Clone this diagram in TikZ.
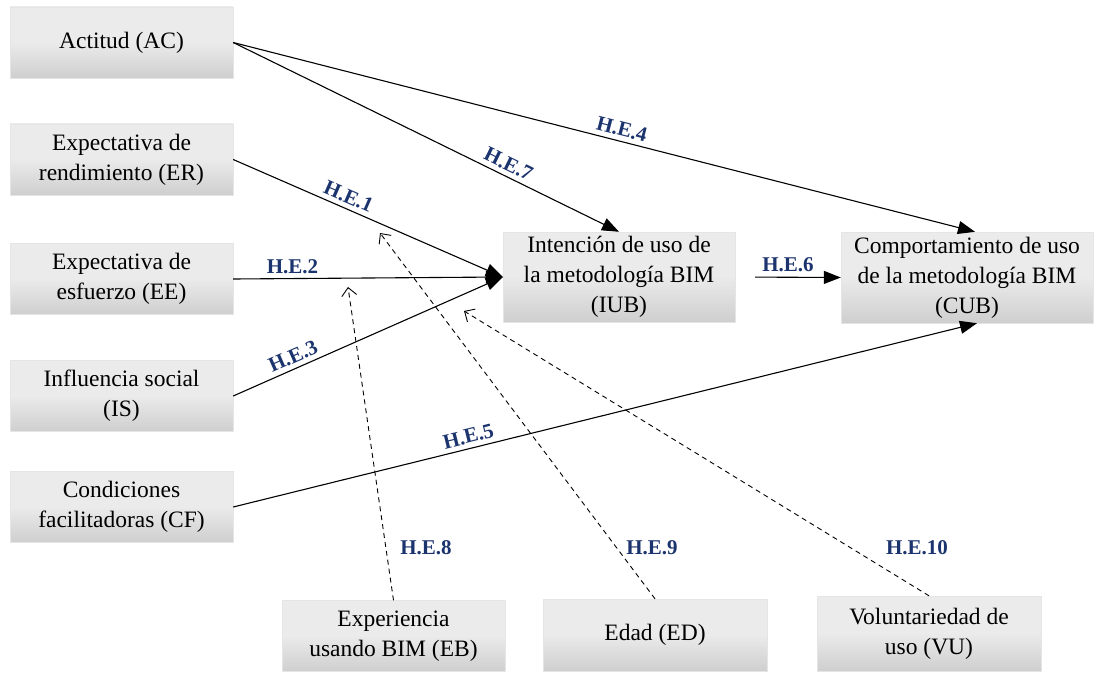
\documentclass[tikz,border=0pt]{standalone}
\usepackage{fontspec}
\setmainfont{Liberation Serif}
\usetikzlibrary{positioning,arrows.meta}
\definecolor{hypnavy}{RGB}{28,52,110}
\colorlet{boxtop}{black!8}
\colorlet{boxbottom}{black!19}
\colorlet{boxdraw}{black!10}

\tikzset{
  construct/.style={rectangle, inner sep=0pt, minimum width=223pt, minimum height=71pt,
    align=center, top color=boxtop, bottom color=boxbottom, middle color=boxtop,
    draw=boxdraw, font=\fontsize{23.5}{30}\selectfont},
  hyp/.style={-{Triangle[length=17pt,width=13pt]}, line width=1.1pt},
  moder/.style={-{Straight Barb[length=8pt,width=15pt]}, dash pattern=on 5pt off 4pt, line width=.9pt},
  hlabel/.style={text=hypnavy, font=\fontsize{21}{21}\selectfont\bfseries, inner sep=4.5pt},
}

\begin{document}
\begin{tikzpicture}[x=1pt,y=-1pt]
  \useasboundingbox (0,0) rectangle (1102,674);
  % constructos de la izquierda
  \node[construct] (ac) at (121.5,42.5) {Actitud (AC)};
  \node[construct] (er) at (121.5,159.5) {Expectativa de\\rendimiento (ER)};
  \node[construct] (ee) at (121.5,279) {Expectativa de\\esfuerzo (EE)};
  \node[construct] (is) at (121.5,396) {Influencia social\\(IS)};
  \node[construct] (cf) at (121.5,507) {Condiciones\\facilitadoras (CF)};
  % intencion y comportamiento
  \node[construct, minimum width=232pt, minimum height=90pt] (iub) at (619,277)
    {Intención de uso de\\la metodología BIM\\(IUB)};
  \node[construct, minimum width=252pt, minimum height=91pt] (cub) at (967,277.5)
    {Comportamiento de uso\\de la metodología BIM\\(CUB)};
  % moderadores
  \node[construct] (eb) at (393.5,636) {Experiencia\\usando BIM (EB)};
  \node[construct, minimum width=224pt, minimum height=72pt] (ed) at (655,635) {Edad (ED)};
  \node[construct, minimum width=224pt, minimum height=75pt] (vu) at (929,633.5) {Voluntariedad de\\uso (VU)};

  % hipotesis directas
  \draw[hyp] (ac.east) -- node[hlabel, sloped, above, pos=.7] (he7) {H.E.7} (iub.north);
  \draw[hyp] (ac.east) -- node[hlabel, sloped, above, pos=.52] (he4) {H.E.4} ([xshift=8pt]cub.north);
  \draw[hyp] (er.east) -- node[hlabel, sloped, above, pos=.41] (he1) {H.E.1} (iub.west);
  \draw[hyp] (ee.east) -- node[hlabel, above, pos=.22] (he2) {H.E.2} (iub.west);
  \draw[hyp] (is.east) -- node[hlabel, sloped, above, pos=.24] (he3) {H.E.3} (iub.west);
  \draw[hyp] (cf.east) -- node[hlabel, sloped, above, pos=.32] (he5) {H.E.5} ([xshift=10pt]cub.south);
  \draw[hyp, shorten <=20pt] (iub.east) -- node[hlabel, above, pos=.5] (he6) {H.E.6} (cub.west);

  % hipotesis de moderacion
  \coordinate (m8) at (348,287);
  \coordinate (m9) at (380,233);
  \coordinate (m10) at (464,311);
  \draw[moder] (eb.north) -- (m8);
  \draw[moder] (ed.north) -- (m9);
  \draw[moder] (vu.north) -- (m10);
  \node[hlabel] (he8) at (426,548) {H.E.8};
  \node[hlabel] (he9) at (652,548) {H.E.9};
  \node[hlabel] (he10) at (917,548) {H.E.10};
\end{tikzpicture}
\end{document}
